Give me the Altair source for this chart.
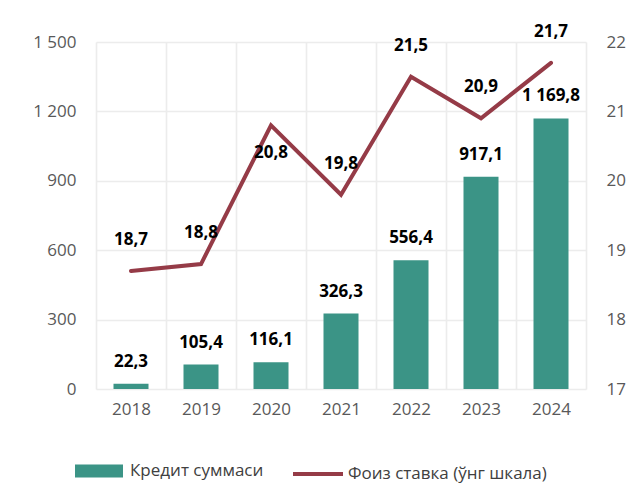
import altair as alt
import pandas as pd

years = ["2018", "2019", "2020", "2021", "2022", "2023", "2024"]
credit = [22.3, 105.4, 116.1, 326.3, 556.4, 917.1, 1169.8]
credit_labels = ["22,3", "105,4", "116,1", "326,3", "556,4", "917,1", "1 169,8"]
rate = [18.7, 18.8, 20.8, 19.8, 21.5, 20.9, 21.7]
rate_labels = ["18,7", "18,8", "20,8", "19,8", "21,5", "20,9", "21,7"]
bar_name = "Кредит суммаси"
line_name = "Фоиз ставка (ўнг шкала)"
left_ticks = [0, 300, 600, 900, 1200, 1500]
right_ticks = [17, 18, 19, 20, 21, 22]

TEAL = "#3B9486"
RED = "#953B47"
FONT = "Open Sans"

df = pd.DataFrame({
    "year": years,
    "credit": credit,
    "credit_label": credit_labels,
    "rate": rate,
    "rate_label": rate_labels,
    "s1": [bar_name] * len(years),
    "s2": [line_name] * len(years),
})

x_enc = alt.X(
    "year:N",
    title=None,
    scale=alt.Scale(paddingInner=0, paddingOuter=0),
    axis=alt.Axis(
        labelAngle=0, grid=True, tickBand="extent", ticks=False, domain=False,
        labelPadding=12, gridColor="#ECECEC", gridWidth=1.6,
    ),
)

y_left = alt.Y(
    "credit:Q",
    title=None,
    scale=alt.Scale(domain=[0, 1500], nice=False, zero=True),
    axis=alt.Axis(
        values=left_ticks, grid=True, ticks=False, domain=False, labelPadding=20,
        labelExpr="replace(format(datum.value, ','), ',', ' ')",
        gridColor="#ECECEC", gridWidth=1.6,
    ),
)

y_right = alt.Y(
    "rate:Q",
    title=None,
    scale=alt.Scale(domain=[17, 22], nice=False, zero=False),
    axis=alt.Axis(
        orient="right", values=right_ticks, grid=False, ticks=False, domain=False,
        labelPadding=20,
    ),
)

base = alt.Chart(df).encode(x=x_enc)

bars = base.mark_bar(width=alt.RelativeBandSize(0.5)).encode(
    y=y_left,
    color=alt.Color(
        "s1:N",
        scale=alt.Scale(domain=[bar_name], range=[TEAL]),
        legend=alt.Legend(
            title=None, orient="none", legendX=-21, legendY=405,
            symbolType="M-1,-0.27H1V0.27H-1Z", symbolSize=2304,
            symbolStrokeWidth=0, labelOffset=7, padding=0, labelLimit=0,
        ),
    ),
)

bar_text = base.mark_text(dy=-22, fontWeight="bold", fontSize=17, color="#000000", font=FONT).encode(
    y=y_left, text="credit_label:N"
)

line = base.mark_line(strokeWidth=4, strokeCap="round", strokeJoin="miter").encode(
    y=y_right,
    stroke=alt.Stroke(
        "s2:N",
        scale=alt.Scale(domain=[line_name], range=[RED]),
        legend=alt.Legend(
            title=None, orient="none", legendX=195, legendY=405,
            symbolType="stroke", symbolSize=2500, symbolStrokeWidth=4,
            labelOffset=3, padding=0, labelLimit=0,
        ),
    ),
)

rate_text_above = base.mark_text(dy=-31, fontWeight="bold", fontSize=17, color="#000000", font=FONT).encode(
    y=y_right, text="rate_label:N"
).transform_filter(alt.datum.year != "2020")

rate_text_below = base.mark_text(dy=28, fontWeight="bold", fontSize=17, color="#000000", font=FONT).encode(
    y=y_right, text="rate_label:N"
).transform_filter(alt.datum.year == "2020")

left_group = alt.layer(bars, bar_text)
right_group = alt.layer(line, rate_text_above, rate_text_below)

chart = (
    alt.layer(left_group, right_group)
    .resolve_scale(y="independent", color="independent", stroke="independent")
    .properties(
        width=490, height=347,
        autosize=alt.AutoSizeParams(type="none"),
        padding={"left": 88, "top": 34, "right": 40, "bottom": 104},
        background="#FFFFFF",
    )
    .configure_view(stroke=None)
    .configure_axis(labelFont=FONT, labelFontSize=17, labelColor="#595959")
    .configure_legend(labelFont=FONT, labelFontSize=17, labelColor="#404040")
)

chart.save("out.html", embed_options={"renderer": "svg", "actions": False})
